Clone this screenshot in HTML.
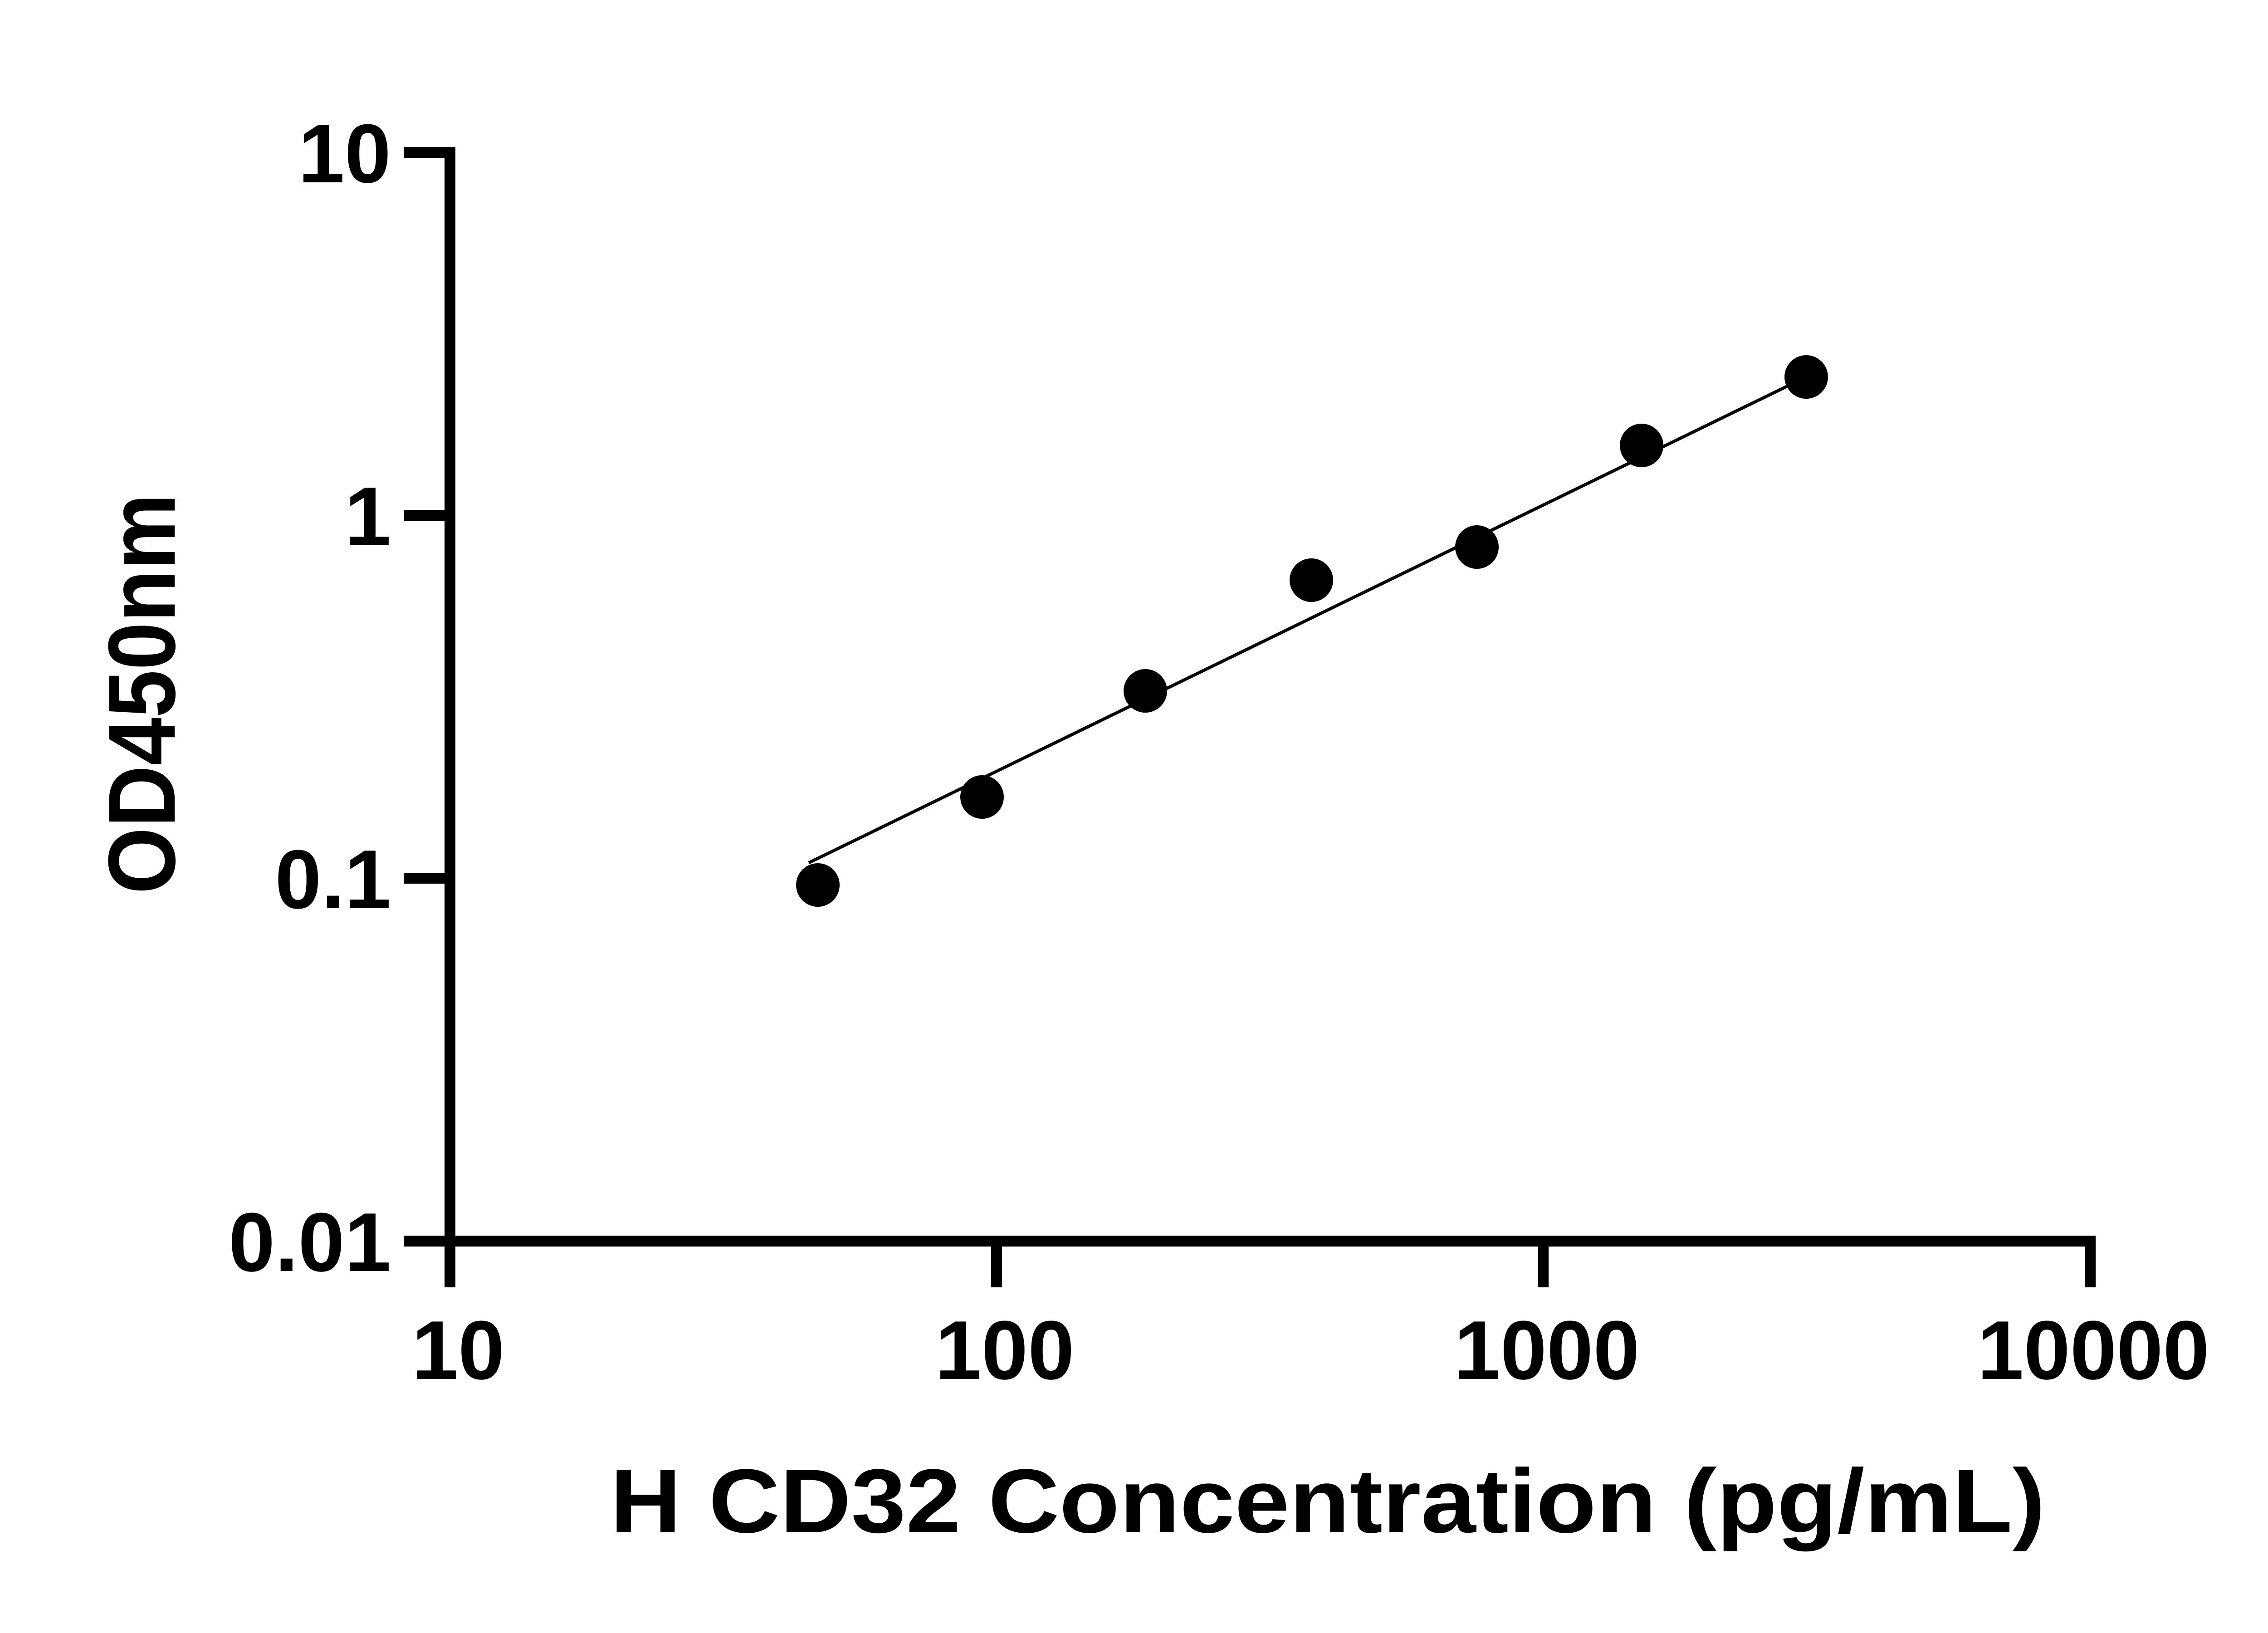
<!DOCTYPE html>
<html><head><meta charset="utf-8"><style>html,body{margin:0;padding:0;background:#fff}svg{display:block}</style></head>
<body>
<svg width="5142" height="3600" viewBox="0 0 5142 3600" xmlns="http://www.w3.org/2000/svg" font-family="Liberation Sans, Arial, sans-serif" font-weight="bold">
<g stroke="#000" stroke-width="24" fill="none" stroke-linecap="butt">
<path d="M890 336 H992 V2736 H4608 V2838"/>
<path d="M890 1136 H992 M890 1936 H992 M890 2736 H992"/>
<path d="M992 2736 V2838 M2197 2736 V2838 M3402 2736 V2838"/>
</g>
<g font-size="184" text-anchor="end" fill="#000">
<text x="862" y="402">10</text>
<text x="862" y="1202">1</text>
<text x="862" y="2002">0.1</text>
<text x="862" y="2802">0.01</text>
</g>
<g font-size="184" text-anchor="middle" fill="#000">
<text x="1010" y="3040">10</text>
<text x="2215" y="3040">100</text>
<text x="3410" y="3040">1000</text>
<text x="4615" y="3040">10000</text>
</g>
<line x1="1783" y1="1902" x2="3982" y2="831" stroke="#000" stroke-width="7"/>
<g fill="#000">
<circle cx="1803" cy="1951" r="48"/>
<circle cx="2165" cy="1757" r="48"/>
<circle cx="2525" cy="1523" r="48"/>
<circle cx="2891" cy="1279" r="48"/>
<circle cx="3256" cy="1206" r="48"/>
<circle cx="3619" cy="982" r="48"/>
<circle cx="3982" cy="831" r="48"/>
</g>
<text x="1345" y="3378" font-size="200" textLength="3164" lengthAdjust="spacingAndGlyphs" fill="#000">H CD32 Concentration (pg/mL)</text>
<text transform="translate(385,1971) rotate(-90)" font-size="210" textLength="883" lengthAdjust="spacingAndGlyphs" fill="#000">OD450nm</text>
</svg>
</body></html>
